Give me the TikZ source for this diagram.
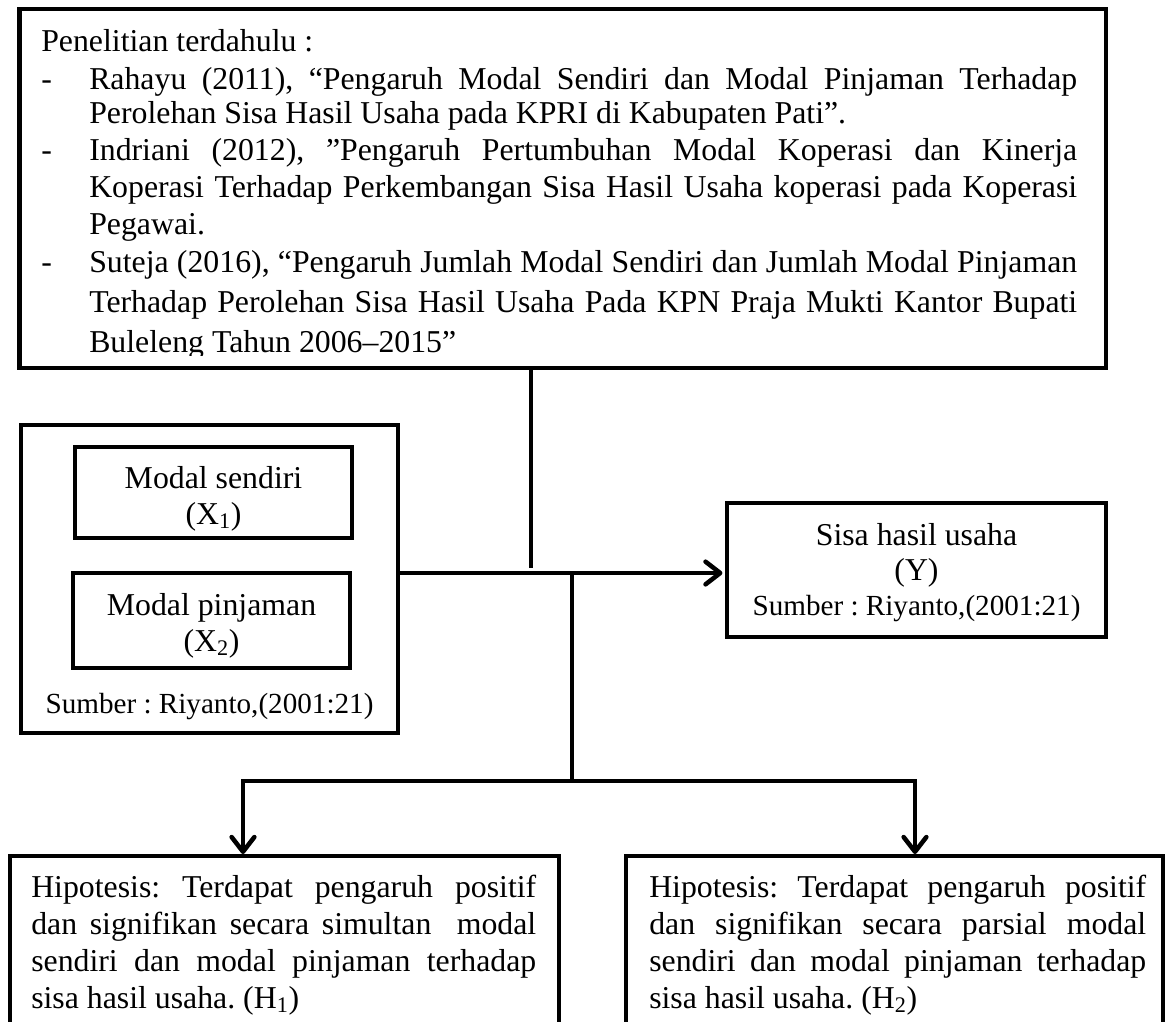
\documentclass[tikz,border=0pt]{standalone}
\usepackage{fontspec}
\setmainfont{Liberation Serif}
\usetikzlibrary{arrows.meta,fit}
\newcommand{\jline}[2]{\makebox[#1][s]{#2}}
\frenchspacing
\begin{document}
\begin{tikzpicture}[x=0.75pt,y=-0.75pt,
  box/.style={draw, line width=3.4pt, inner sep=0pt},
  conn/.style={line width=3.4pt},
  arr/.style={conn, -{Straight Barb[length=11pt,width=17pt,line cap=round,line join=round]}},
  t12/.style={font=\fontsize{23.85pt}{27.75pt}\selectfont, inner sep=0pt},
  t11/.style={font=\fontsize{21.86pt}{26pt}\selectfont, inner sep=0pt},
  ln/.style={t12, anchor=base west},
  cl/.style={t12, anchor=base},
  cs/.style={t11, anchor=base}]
\path[use as bounding box] (0,0) rectangle (1167,1021);
\clip (0,0) rectangle (1167,1021);

% top box
\node[box, fit={(19.5,9) (1106,368)}] (top) {};
\begin{scope}
\clip (19.5,9) rectangle (1106,355);
\node[ln] (p0) at (41,51) {Penelitian terdahulu :};
\node[ln] (d1) at (41,89) {-};
\node[ln] (r1) at (89,89) {\jline{741pt}{Rahayu (2011), “Pengaruh Modal Sendiri dan Modal Pinjaman Terhadap}};
\node[ln] (r2) at (89,123) {Perolehan Sisa Hasil Usaha pada KPRI di Kabupaten Pati”.};
\node[ln] (d2) at (41,160) {-};
\node[ln] (i1) at (89,160) {\jline{741pt}{Indriani (2012), ”Pengaruh Pertumbuhan Modal Koperasi dan Kinerja}};
\node[ln] (i2) at (89,197) {\jline{741pt}{Koperasi Terhadap Perkembangan Sisa Hasil Usaha koperasi pada Koperasi}};
\node[ln] (i3) at (89,234) {Pegawai.};
\node[ln] (d3) at (41,272) {-};
\node[ln] (s1) at (89,272) {\jline{741pt}{Suteja (2016), “Pengaruh Jumlah Modal Sendiri dan Jumlah Modal Pinjaman}};
\node[ln] (s2) at (89,312) {\jline{741pt}{Terhadap Perolehan Sisa Hasil Usaha Pada KPN Praja Mukti Kantor Bupati}};
\node[ln] (s3) at (89,352) {Buleleng Tahun 2006–2015”};
\end{scope}

% left group
\node[box, fit={(21,425) (398,733)}] (grp) {};
\node[box, fit={(75,447) (352,538)}] (x1) {};
\node[cl] (x1a) at (213.5,488) {Modal sendiri};
\node[cl] (x1b) at (213.5,524) {(X\textsubscript{1})};
\node[box, fit={(73,573) (350,668)}] (x2) {};
\node[cl] (x2a) at (211.5,615) {Modal pinjaman};
\node[cl] (x2b) at (211.5,651) {(X\textsubscript{2})};
\node[cs] (src1) at (209.5,713) {Sumber : Riyanto,(2001:21)};

% Y box
\node[box, fit={(727,503) (1106,637)}] (ybox) {};
\node[cl] (y1) at (916.5,545) {Sisa hasil usaha};
\node[cl] (y2) at (916.5,580) {(Y)};
\node[cs] (y3) at (916.5,615) {Sumber : Riyanto,(2001:21)};

% hypothesis boxes
\node[box, fit={(10,856) (559,1040)}] (h1) {};
\node[ln] (h1a) at (31,897) {\jline{378.75pt}{Hipotesis: Terdapat pengaruh positif}};
\node[ln] (h1b) at (31,934) {\jline{378.75pt}{dan signifikan secara simultan \ modal}};
\node[ln] (h1c) at (31,971) {\jline{378.75pt}{sendiri dan modal pinjaman terhadap}};
\node[ln] (h1d) at (31,1008) {sisa hasil usaha. (H\textsubscript{1})};
\node[box, fit={(626,856) (1163,1040)}] (h2) {};
\node[ln] (h2a) at (649,897) {\jline{372.75pt}{Hipotesis: Terdapat pengaruh positif}};
\node[ln] (h2b) at (649,934) {\jline{372.75pt}{dan signifikan secara parsial modal}};
\node[ln] (h2c) at (649,971) {\jline{372.75pt}{sendiri dan modal pinjaman terhadap}};
\node[ln] (h2d) at (649,1008) {sisa hasil usaha. (H\textsubscript{2})};

% connectors
\coordinate (jt) at (531,568);
\coordinate (hy) at (0,573);
\coordinate (jd) at (572,573);
\coordinate (jb) at (572,781);
\coordinate (a1) at (243,854);
\coordinate (a2) at (915,854);
\draw[conn] (top.south -| jt) -- (jt);
\draw[arr] (grp.east |- hy) -- ([xshift=-1.7pt]ybox.west |- hy);
\draw[conn] (jd) -- (jb);
\draw[arr] (jb) -| (a1);
\draw[arr] (jb) -| (a2);
\end{tikzpicture}
\end{document}
